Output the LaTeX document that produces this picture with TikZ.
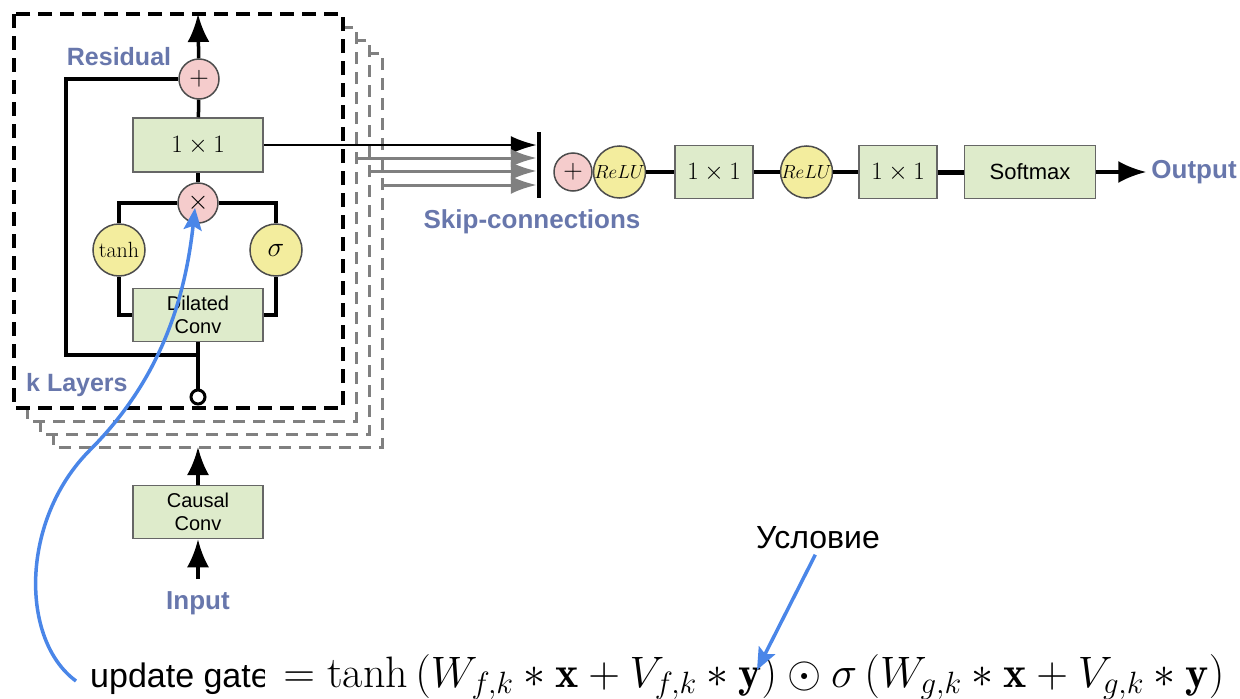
\RequirePackage{fix-cm}
\documentclass[tikz,border=0pt]{standalone}
\usepackage{fontspec}
\setsansfont{Liberation Sans}
\usepackage{xcolor}
\usetikzlibrary{arrows.meta,positioning,calc}
\definecolor{boxgreen}{RGB}{222,235,203}
\definecolor{oppink}{RGB}{245,204,204}
\definecolor{actyellow}{RGB}{243,237,158}
\definecolor{lblblue}{RGB}{104,119,172}
\definecolor{hlblue}{RGB}{74,134,232}
\definecolor{layergray}{RGB}{128,128,128}
\newcommand{\px}[1]{\fontsize{#1}{1.15\dimexpr#1pt\relax}\selectfont}
\tikzset{%
  % blocks
  block/.style={draw=black!60, line width=1.5pt, fill=boxgreen, inner sep=0pt, align=center},
  conv/.style={block, minimum width=130pt, minimum height=53pt, font=\sffamily\px{20}},
  mix/.style={block, minimum width=78pt, minimum height=53pt, font=\px{25}},
  op/.style={circle, draw=black!70, line width=1.5pt, fill=oppink, inner sep=0pt, minimum size=40pt, font=\px{27}},
  act/.style={circle, draw=black!70, line width=1.5pt, fill=actyellow, inner sep=0pt, minimum size=52pt},
  hole/.style={circle, draw, line width=3pt, fill=white, inner sep=0pt, minimum size=14pt},
  lbl/.style={text=lblblue, font=\sffamily\bfseries\px{25}, inner sep=0pt},
  note/.style={font=\sffamily\px{34}, inner sep=0pt},
  % layers
  layerbox/.style={draw=layergray, line width=3pt, fill=white, dash pattern=on 12pt off 8pt},
  mainbox/.style={draw=black, line width=4pt, fill=white, dash pattern=on 14pt off 8pt},
  % edge styles
  wire/.style={line width=3.5pt},
  flow/.style={wire, -{Latex[length=28pt, width=22pt]}},
  skip/.style={line width=2.5pt, -{Latex[length=26pt, width=18pt]}},
  hl/.style={draw=hlblue, line width=3.5pt, -{Stealth[length=22pt, width=18pt, inset=4pt]}},
}

\begin{document}
\begin{tikzpicture}[x=1pt, y=-1pt]
  \useasboundingbox (0,0) rectangle (1240,699);

  % Stacked layers
  \foreach \i in {3,2,1}
    \draw[layerbox] ({14+13*\i},{14+13*\i}) rectangle ({343+13*\i},{408+13*\i});
  \draw[mainbox] (14,14) rectangle (343,408);

  % Residual block
  \node[op] (res) at (199,79) {$+$};
  \node[block, minimum width=130pt, minimum height=54pt, font=\px{25}] (out1) at (198,145) {$1\times1$};
  \node[op] (gate) at (198,203) {$\times$};
  \node[act, font=\px{22}] (tanh) at (119,250) {$\tanh$};
  \node[act, font=\px{28}] (sig) at (276,250) {$\sigma$};
  \node[conv] (dil) at (198,315) {Dilated\\Conv};
  \node[hole] (tap) at (198,397) {};
  \coordinate (top) at (198,14);
  \coordinate (split) at (198,355);
  \coordinate (loopc) at (66,355);

  \node[lbl] (reslbl) at (119,57) {Residual};
  \node[lbl, anchor=west] (klbl) at (26,385) {k Layers};

  \draw[flow] (res) -- (top);
  \draw[wire] (out1) -- (res);
  \draw[wire] (gate) -- (out1);
  \draw[wire] (gate.west) -| (tanh.north);
  \draw[wire] (gate.east) -| (sig.north);
  \draw[wire] (tanh.south) |- (dil.west);
  \draw[wire] (sig.south) |- (dil.east);
  \draw[wire] (tap.north) -- (dil.south);
  \draw[wire] (split) -- (loopc) |- (res.west);

  % Input side
  \node[conv] (causal) at (198,512) {Causal\\Conv};
  \node[lbl, font=\sffamily\bfseries\px{26}] (input) at (198,603) {Input};
  \coordinate (base) at (198,447);
  \draw[flow] (causal) -- (base);
  \draw[flow, shorten <=12pt] (input) -- (causal);

  % Skip-connections
  \node[fill=black, inner sep=0pt, minimum width=4pt, minimum height=66pt] (bar) at (539,165) {};
  \draw[skip] (out1.east) -- (out1.east -| bar.west);
  \foreach \i/\y in {1/158, 2/171, 3/185}
    \draw[skip, layergray, line width=3pt] ({343+13*\i},\y) -- (bar.west |- 0,\y);
  \node[lbl, font=\sffamily\bfseries\px{26}] (skiplbl) at (532,222) {Skip-connections};

  % Output side
  \node[op, minimum size=38pt] (sum) at (573,172) {$+$};
  \node[act, right=0pt of sum, font=\px{19}] (relu1) {$ReLU$};
  \node[mix, right=28pt of relu1] (post1) {$1\times1$};
  \node[act, right=26pt of post1, font=\px{19}] (relu2) {$ReLU$};
  \node[mix, right=25pt of relu2] (post2) {$1\times1$};
  \node[block, minimum width=131pt, minimum height=53pt, right=26pt of post2, font=\sffamily\px{22}] (soft) {Softmax};
  \node[lbl, font=\sffamily\bfseries\px{26}, right=55pt of soft] (output) {Output};

  \draw[wire] (relu1) -- (post1);
  \draw[wire] (post1) -- (relu2);
  \draw[wire] (relu2) -- (post2);
  \draw[line width=5pt] (post2) -- (soft);
  \draw[flow, shorten >=5pt] (soft) -- (output);

  % Conditioning
  \node[note, anchor=base west] (ugate) at (90,687) {update gate};
  \node[anchor=base west, fill=white, inner sep=0pt, inner xsep=6pt, font=\px{44}] (eq) at (265,687)
    {$\displaystyle {}= \tanh\left(W_{f,k}*\mathbf{x}+V_{f,k}*\mathbf{y}\right)\odot\sigma\left(W_{g,k}*\mathbf{x}+V_{g,k}*\mathbf{y}\right)$};
  \node[note, font=\sffamily\px{32}] (cond) at (818,538) {Условие};
  \coordinate (ycond) at (757,670);
  \coordinate (cstart) at (76,681);
  \draw[hl, shorten <=6pt] (cond.south) -- (ycond);
  \draw[hl] (cstart) .. controls (20,640) and (20,520) .. (90,450)
    .. controls (160,380) and (185,300) .. (195,208);
\end{tikzpicture}
\end{document}
